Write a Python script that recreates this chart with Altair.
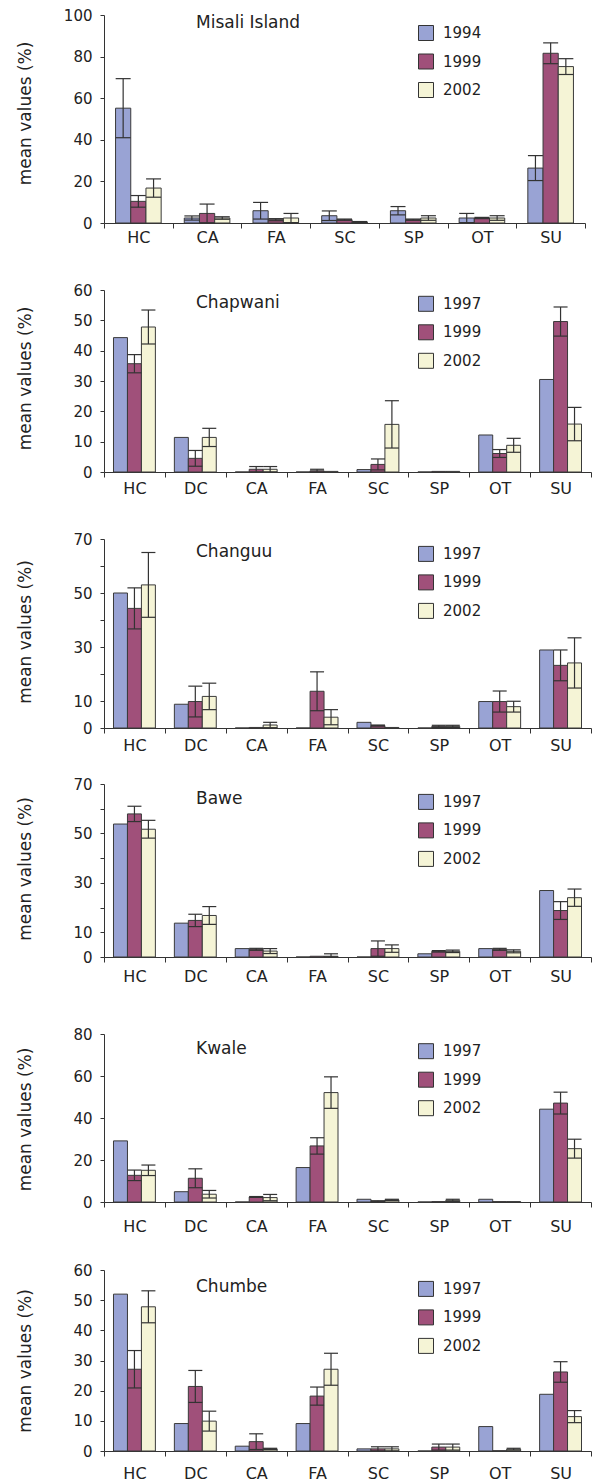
import altair as alt
import pandas as pd

FONT = "DejaVu Sans"
COLORS = ["#99A3D4", "#A0507A", "#F5F4D6"]
INK = "#222222"

CATS7 = ["HC", "CA", "FA", "SC", "SP", "OT", "SU"]
CATS8 = ["HC", "DC", "CA", "FA", "SC", "SP", "OT", "SU"]
YEARS_A = ["1994", "1999", "2002"]
YEARS_B = ["1997", "1999", "2002"]

# Misali Island
MIS_1994 = [55.2, 2.4, 5.9, 3.5, 5.9, 2.4, 26.4]
MIS_1994_ERR = [14.2, 1.0, 4.0, 2.3, 2.0, 2.2, 6.0]
MIS_1999 = [10.4, 4.6, 1.6, 1.6, 1.6, 2.4, 81.6]
MIS_1999_ERR = [2.8, 4.5, 0.5, 0.3, 0.3, 0.3, 5.0]
MIS_2002 = [16.8, 2.4, 2.4, 0.5, 2.4, 2.4, 75.2]
MIS_2002_ERR = [4.4, 0.6, 2.2, 0.2, 1.1, 1.1, 3.8]

# Chapwani
CHA_1997 = [44.3, 11.4, 0.0, 0.0, 0.8, 0.0, 12.2, 30.5]
CHA_1999 = [35.7, 4.5, 0.9, 0.4, 2.5, 0.2, 6.1, 49.6]
CHA_1999_ERR = [3.0, 2.6, 0.9, 0.5, 1.8, 0.0, 1.3, 4.8]
CHA_2002 = [47.8, 11.4, 0.9, 0.2, 15.7, 0.2, 8.8, 15.8]
CHA_2002_ERR = [5.6, 3.0, 0.9, 0.0, 7.8, 0.0, 2.3, 5.5]

# Changuu
CGU_1997 = [50.0, 8.8, 0.0, 0.0, 2.1, 0.0, 9.8, 28.9]
CGU_1999 = [44.3, 9.8, 0.2, 13.6, 0.9, 0.6, 9.8, 23.2]
CGU_1999_ERR = [7.6, 5.7, 0.0, 7.2, 0.2, 0.4, 3.9, 5.7]
CGU_2002 = [53.0, 11.7, 1.1, 4.0, 0.2, 0.6, 7.9, 24.1]
CGU_2002_ERR = [12.0, 4.9, 1.0, 2.8, 0.0, 0.4, 2.0, 9.3]

# Bawe
BAW_1997 = [53.8, 13.7, 3.4, 0.0, 0.0, 1.3, 3.4, 26.9]
BAW_1999 = [57.9, 14.8, 3.1, 0.3, 3.4, 2.3, 3.1, 18.8]
BAW_1999_ERR = [3.1, 2.5, 0.4, 0.0, 3.1, 0.3, 0.4, 3.6]
BAW_2002 = [51.7, 16.8, 2.4, 0.3, 3.4, 2.3, 2.3, 24.0]
BAW_2002_ERR = [3.6, 3.6, 1.0, 1.0, 1.5, 0.5, 0.6, 3.5]

# Kwale
KWA_1997 = [29.1, 4.9, 0.0, 16.4, 1.3, 0.0, 1.3, 44.2]
KWA_1999 = [12.7, 11.3, 2.4, 26.7, 0.3, 0.2, 0.2, 47.1]
KWA_1999_ERR = [2.5, 4.5, 0.2, 3.9, 0.3, 0.0, 0.0, 5.2]
KWA_2002 = [15.1, 3.7, 2.1, 52.1, 1.0, 0.8, 0.2, 25.4]
KWA_2002_ERR = [2.5, 1.8, 1.5, 7.5, 0.3, 0.5, 0.0, 4.5]

# Chumbe
CHU_1997 = [52.0, 9.1, 1.6, 9.1, 0.7, 0.0, 8.1, 18.8]
CHU_1999 = [27.1, 21.4, 3.1, 18.2, 0.7, 1.3, 0.1, 26.2]
CHU_1999_ERR = [6.2, 5.3, 2.6, 3.0, 0.7, 1.0, 0.0, 3.4]
CHU_2002 = [47.8, 9.9, 0.7, 27.1, 0.7, 1.3, 0.6, 11.4]
CHU_2002_ERR = [5.3, 3.3, 0.2, 5.3, 0.7, 1.0, 0.3, 2.0]

PANELS = [
    ("Misali Island", CATS7, YEARS_A, [MIS_1994, MIS_1999, MIS_2002],
     [MIS_1994_ERR, MIS_1999_ERR, MIS_2002_ERR], 100, 20, None),
    ("Chapwani", CATS8, YEARS_B, [CHA_1997, CHA_1999, CHA_2002],
     [None, CHA_1999_ERR, CHA_2002_ERR], 60, 10, None),
    ("Changuu", CATS8, YEARS_B, [CGU_1997, CGU_1999, CGU_2002],
     [None, CGU_1999_ERR, CGU_2002_ERR], 70, 10, [20, 40, 60]),
    ("Bawe", CATS8, YEARS_B, [BAW_1997, BAW_1999, BAW_2002],
     [None, BAW_1999_ERR, BAW_2002_ERR], 70, 10, [20, 40, 60]),
    ("Kwale", CATS8, YEARS_B, [KWA_1997, KWA_1999, KWA_2002],
     [None, KWA_1999_ERR, KWA_2002_ERR], 80, 20, None),
    ("Chumbe", CATS8, YEARS_B, [CHU_1997, CHU_1999, CHU_2002],
     [None, CHU_1999_ERR, CHU_2002_ERR], 60, 10, None),
]

# layout (pixels)
LAYOUT = [
    dict(w=481, h=208, gap=0, pad=0.76, cap=15, lp=1, ty=13.3, ly=10.0, tt=-6),
    dict(w=487, h=182, gap=67, pad=0.68, cap=14, lp=3, ty=18.3, ly=5.8, tt=-3),
    dict(w=487, h=189, gap=67, pad=0.68, cap=14, lp=4, ty=18.4, ly=6.9, tt=-2),
    dict(w=487, h=173, gap=56, pad=0.68, cap=14, lp=6, ty=20.0, ly=9.9, tt=-2),
    dict(w=487, h=168, gap=77, pad=0.68, cap=14, lp=11, ty=20.0, ly=9.2, tt=1),
    dict(w=487, h=181, gap=68, pad=0.68, cap=14, lp=9, ty=22.4, ly=10.9, tt=0),
]


def make_panel(spec, lay):
    name, cats, years, vals, errs, ymax, step, hidden = spec
    rows = []
    for yr, vs, es in zip(years, vals, errs):
        for i, c in enumerate(cats):
            e = es[i] if es is not None else 0.0
            rows.append({"cat": c, "year": yr, "value": vs[i], "err": e,
                         "lo": max(vs[i] - e, 0.0), "hi": vs[i] + e})
    df = pd.DataFrame(rows)
    dferr = df[df["err"] > 0]

    H, gap = lay["h"], lay["gap"]
    yscale = alt.Scale(domain=[0, ymax], range=[H + gap, gap], nice=False, zero=True)
    ticks = list(range(0, ymax + 1, step))
    axis_kw = dict(
        values=ticks, tickSize=4, labelPadding=8, grid=False,
        labelFont=FONT, labelFontSize=15, labelColor=INK,
        domainColor="#333333", tickColor="#333333",
        title="mean values (%)", titleFont=FONT, titleFontSize=17,
        titleFontWeight="normal", titleColor=INK, titleAngle=270,
        titleAlign="center", titleBaseline="middle",
        titleX=-79, titleY=gap + H / 2 + lay["tt"],
    )
    if hidden:
        axis_kw["labelExpr"] = (
            "indexof(" + str(hidden) + ", datum.value) >= 0 ? '' : datum.label"
        )
    yaxis = alt.Axis(**axis_kw)
    xaxis = alt.Axis(
        title=None, labelAngle=0, tickBand="extent", tickSize=5,
        labelPadding=lay["lp"], labelFont=FONT, labelFontSize=16,
        labelColor=INK, domainColor="#333333", tickColor="#333333",
    )
    xscale = alt.Scale(paddingInner=0, paddingOuter=0)
    oscale = alt.Scale(paddingInner=0, paddingOuter=lay["pad"])

    def X():
        return alt.X("cat:N", sort=cats, scale=xscale, axis=xaxis)

    def XO():
        return alt.XOffset("year:N", sort=years, scale=oscale)

    legend = alt.Legend(
        title=None, orient="none", legendX=314, legendY=gap + lay["ly"],
        symbolType="square", symbolSize=225, symbolStrokeColor="#333333",
        symbolStrokeWidth=1, symbolOpacity=1, labelFont=FONT, labelFontSize=15,
        labelColor=INK, labelOffset=9, rowPadding=8.5, padding=0,
    )

    bars = alt.Chart(df).mark_bar(stroke="#3a3a3a", strokeWidth=1).encode(
        x=X(), xOffset=XO(),
        y=alt.Y("value:Q", scale=yscale, axis=yaxis),
        color=alt.Color("year:N", sort=years,
                        scale=alt.Scale(domain=years, range=COLORS), legend=legend),
    )
    rules = alt.Chart(dferr).mark_rule(color="#333333", strokeWidth=1.2).encode(
        x=X(), xOffset=XO(),
        y=alt.Y("lo:Q", scale=yscale, axis=yaxis), y2="hi:Q",
    )
    cap_hi = alt.Chart(dferr).mark_tick(
        color="#333333", thickness=1.2, size=lay["cap"], opacity=1
    ).encode(x=X(), xOffset=XO(), y=alt.Y("hi:Q", scale=yscale, axis=yaxis))
    cap_lo = alt.Chart(dferr).mark_tick(
        color="#333333", thickness=1.2, size=lay["cap"], opacity=1
    ).encode(x=X(), xOffset=XO(), y=alt.Y("lo:Q", scale=yscale, axis=yaxis))
    title = alt.Chart(pd.DataFrame({"t": [name]})).mark_text(
        align="left", baseline="alphabetic", font=FONT, fontSize=17, color=INK
    ).encode(text="t:N", x=alt.value(92), y=alt.value(gap + lay["ty"]))

    return alt.layer(bars, rules, cap_hi, cap_lo, title).properties(
        width=lay["w"], height=H + gap
    )


panels = [make_panel(s, l) for s, l in zip(PANELS, LAYOUT)]

chart = (
    alt.vconcat(*panels, spacing=0, bounds="flush")
    .resolve_scale(color="independent", x="independent", y="independent",
                   xOffset="independent")
    .resolve_legend(color="independent")
    .properties(padding={"left": 16, "top": 8, "right": 0, "bottom": 0})
    .configure_view(stroke=None)
)

chart.save("out.html", embed_options={"renderer": "svg", "actions": False})
